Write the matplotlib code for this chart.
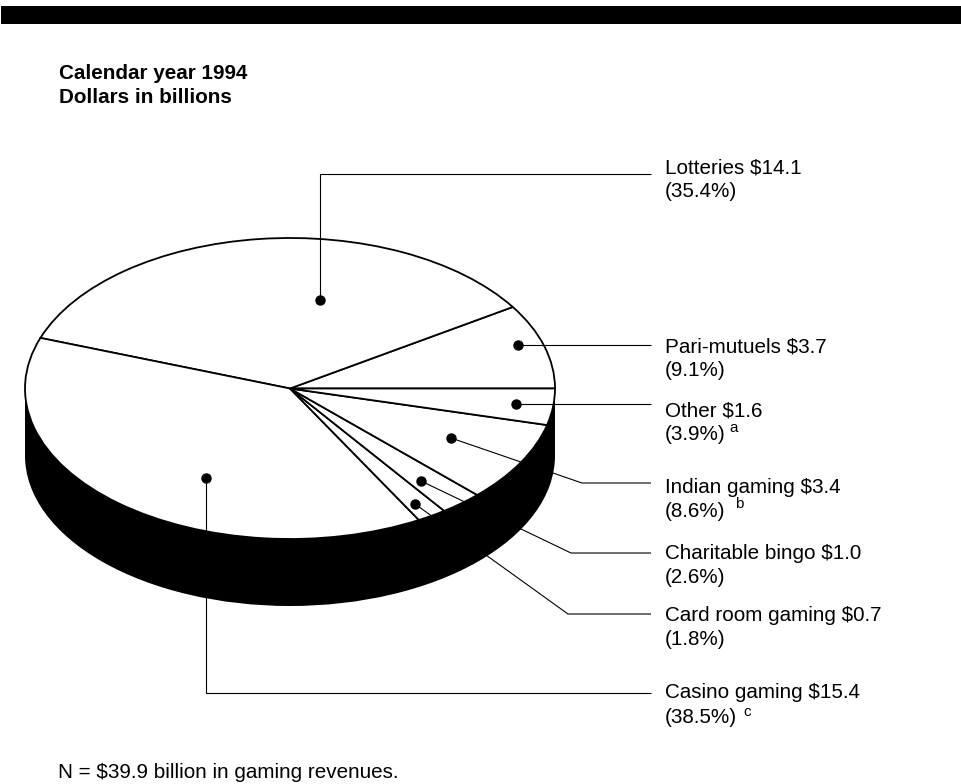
import matplotlib
matplotlib.use('Agg')
import matplotlib.pyplot as plt
from matplotlib.patches import Rectangle, Ellipse

plt.rcParams['font.family'] = ['Liberation Sans', 'DejaVu Sans']

# Data, counterclockwise from the horizontal divider
categories = ['Pari-mutuels', 'Lotteries', 'Casino gaming', 'Card room gaming',
              'Charitable bingo', 'Indian gaming', 'Other']
dollars = ['$3.7', '$14.1', '$15.4', '$0.7', '$1.0', '$3.4', '$1.6']
percents = [9.1, 35.4, 38.5, 1.8, 2.6, 8.6, 3.9]
footnote_marks = ['', '', 'c', '', '', 'b', 'a']

W, H = 961, 784
fig = plt.figure(figsize=(W / 100, H / 100), dpi=100)

# pixel coordinate overlay for everything around the pie
bg = fig.add_axes([0, 0, 1, 1])
bg.set_xlim(0, W)
bg.set_ylim(H, 0)
bg.axis('off')

cx, cy, rx, ry, depth = 290, 388.5, 265, 150.5, 67

# header bar
bg.add_patch(Rectangle((1, 6), W - 1, 18, color='black', lw=0))

# side of the disc
side = fig.add_axes([0, 0, 1, 1], zorder=2)
side.set_xlim(0, W)
side.set_ylim(H, 0)
side.axis('off')
side.patch.set_visible(False)
side.add_patch(Ellipse((cx, cy + depth), 2 * rx, 2 * ry, color='black', lw=0))
side.add_patch(Rectangle((cx - rx, cy), 2 * rx, depth, color='black', lw=0))

# top of the disc: real pie squashed by its axes
pie_ax = fig.add_axes([(cx - rx - 5) / W, 1 - (cy + ry + 5) / H,
                       (2 * rx + 10) / W, (2 * ry + 10) / H], zorder=3)
pie_ax.pie(percents, startangle=0, counterclock=True, radius=1,
           colors=['white'] * len(percents),
           wedgeprops={'edgecolor': 'black', 'linewidth': 1.3})
pie_ax.set_aspect('auto')
pie_ax.set_xlim(-(rx + 5) / rx, (rx + 5) / rx)
pie_ax.set_ylim(-(ry + 5) / ry, (ry + 5) / ry)
pie_ax.patch.set_visible(False)

# leaders and labels on top; black on the black side just disappears
fg = fig.add_axes([0, 0, 1, 1], zorder=4)
fg.set_xlim(0, W)
fg.set_ylim(H, 0)
fg.axis('off')
fg.patch.set_visible(False)

leaders = {
    'Lotteries': ([320, 320, 651], [300, 174, 174]),
    'Pari-mutuels': ([518, 651], [345, 345]),
    'Other': ([516, 651], [404, 404]),
    'Indian gaming': ([451, 582, 651], [438, 483, 483]),
    'Charitable bingo': ([421, 571, 651], [481, 553, 553]),
    'Card room gaming': ([415, 568, 651], [504, 614, 614]),
    'Casino gaming': ([206, 206, 651], [478, 693, 693]),
}
label_y = {
    'Lotteries': (173, 197), 'Pari-mutuels': (352, 376), 'Other': (416, 440),
    'Indian gaming': (493, 517), 'Charitable bingo': (559, 583),
    'Card room gaming': (621, 645), 'Casino gaming': (698, 723),
}
mark_pos = {'a': (729, 432), 'b': (735, 508), 'c': (743, 716)}

for name, (xs, ys) in leaders.items():
    fg.plot(xs, ys, color='black', lw=0.8, solid_capstyle='butt', zorder=1)
    fg.plot(xs[0], ys[0], 'o', color='black', ms=6.5, zorder=3)

for name, dollar, pct, mark in zip(categories, dollars, percents, footnote_marks):
    y1, y2 = label_y[name]
    fg.text(665, y1, f'{name} {dollar}', fontsize=14.9, va='baseline', ha='left', color='black')
    fg.text(665, y2, f'({pct}%)', fontsize=14.9, va='baseline', ha='left', color='black')
    if mark:
        fg.text(mark_pos[mark][0], mark_pos[mark][1], mark, fontsize=11,
                va='baseline', ha='left', color='black')

bg.text(59, 79, 'Calendar year 1994', fontsize=14.9, fontweight='bold', va='baseline')
bg.text(59, 103, 'Dollars in billions', fontsize=14.9, fontweight='bold', va='baseline')
bg.text(58, 778, 'N = $39.9 billion in gaming revenues.', fontsize=14.9, va='baseline', color='black')

fig.savefig('out.png', dpi=100)
